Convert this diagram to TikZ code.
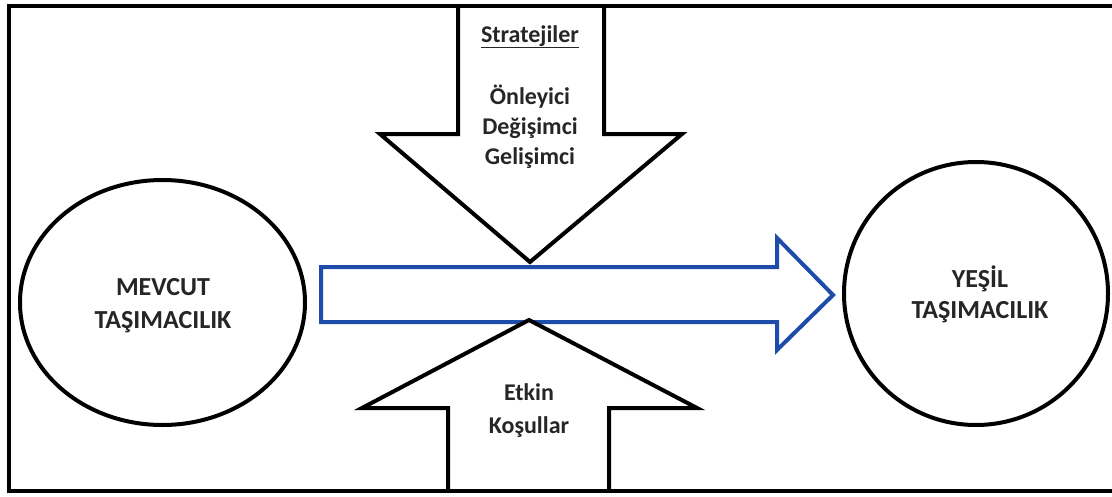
\documentclass[tikz,border=0pt]{standalone}
\usepackage{fontspec}
\setmainfont{Carlito}
\usetikzlibrary{shapes.geometric}
\definecolor{txt}{HTML}{262626}
\definecolor{flow}{RGB}{30,76,170}
\begin{document}
\begin{tikzpicture}[x=1pt,y=-1pt,line join=miter,
  outline/.style={draw=black,line width=4pt},
  state/.style={outline,ellipse,inner sep=0pt},
  lbl/.style={anchor=base,inner sep=0pt,text=txt,font=\fontsize{24}{28}\selectfont\bfseries},
  biglbl/.style={lbl,font=\fontsize{26}{30}\selectfont\bfseries}]
\useasboundingbox (0,0) rectangle (1112,496);
\fill[white] (0,0) rectangle (1112,496);

% the two states
\node[state,minimum width=285pt,minimum height=245pt] (cur) at (162.5,302.5) {};
\node[state,minimum width=264pt,minimum height=263pt] (green) at (976,293.5) {};

% transition arrow
\draw[draw=flow,line width=4pt,fill=white]
  (321,267) -- (777,267) -- (777,238) -- (833,295) -- (777,350) -- (777,322) -- (321,322) -- cycle;

% strategies pushing down
\draw[outline,fill=white]
  (458,6) -- (458,134) -- (380,134) -- (530,262) -- (682,134) -- (604,134) -- (604,6);

% conditions pushing up
\draw[outline,fill=white]
  (448,491) -- (448,408) -- (362,408) -- (529,320) -- (697,408) -- (609,408) -- (609,491);

% frame
\draw[line width=4.5pt] (9,6) rectangle (1124,491);

% labels
\node[lbl] (strat) at (530,42) {\underline{Stratejiler}};
\node[lbl] (s1) at (530,104) {Önleyici};
\node[lbl] (s2) at (530,134) {Değişimci};
\node[lbl] (s3) at (530,164) {Gelişimci};
\node[biglbl] (c1) at (163,295) {MEVCUT};
\node[biglbl] (c2) at (163,328) {TAŞIMACILIK};
\node[biglbl] (g1) at (980,287) {YEŞİL};
\node[biglbl] (g2) at (980,318) {TAŞIMACILIK};
\node[lbl] (e1) at (529,400) {Etkin};
\node[lbl] (e2) at (529,433) {Koşullar};
\end{tikzpicture}
\end{document}
